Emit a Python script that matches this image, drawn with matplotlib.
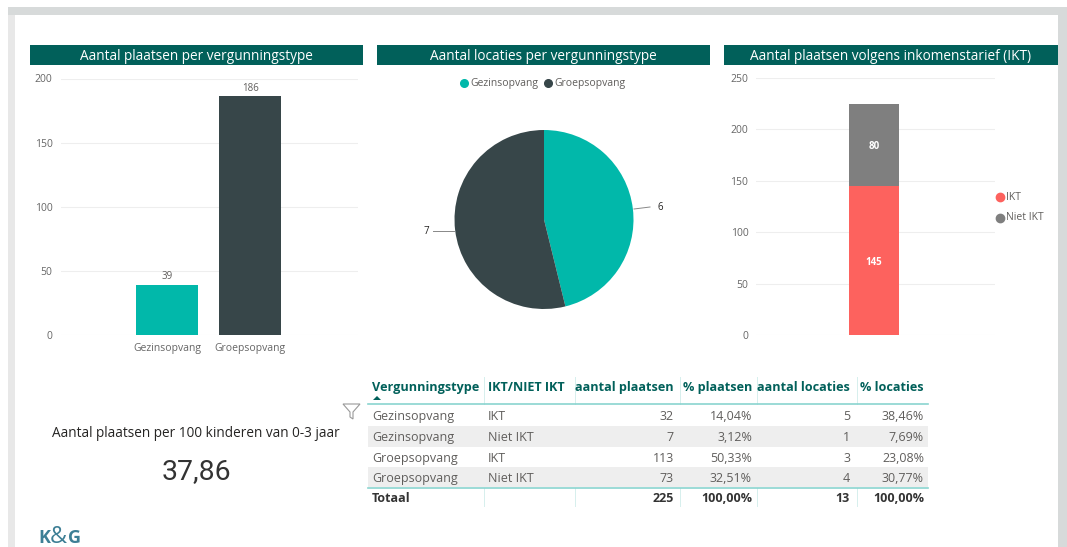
import matplotlib
matplotlib.use("Agg")
import matplotlib.pyplot as plt
from matplotlib.patches import Rectangle, Polygon

plt.rcParams['font.family'] = ['Open Sans', 'DejaVu Sans']

W, H = 1067, 547
TEAL = '#01605a'
GREEN = '#01b8aa'
DARK = '#374649'
RED = '#fd625e'
GRAY = '#7f7f7f'
LINE = '#8ad4cf'

# ---------------- DATA ----------------
titles = ['Aantal plaatsen per vergunningstype',
          'Aantal locaties per vergunningstype',
          'Aantal plaatsen volgens inkomenstarief (IKT)']
types = ['Gezinsopvang', 'Groepsopvang']
places = [39, 186]
locations = [6, 7]
ikt_labels = ['IKT', 'Niet IKT']
ikt_values = [145, 80]
kpi_label = 'Aantal plaatsen per 100 kinderen van 0-3 jaar'
kpi_value = '37,86'

headers = ['Vergunningstype', 'IKT/NIET IKT', 'aantal plaatsen', '% plaatsen', 'aantal locaties', '% locaties']
col_type = ['Gezinsopvang', 'Gezinsopvang', 'Groepsopvang', 'Groepsopvang']
col_ikt = ['IKT', 'Niet IKT', 'IKT', 'Niet IKT']
col_places = ['32', '7', '113', '73']
col_pct_places = ['14,04%', '3,12%', '50,33%', '32,51%']
col_locs = ['5', '1', '3', '4']
col_pct_locs = ['38,46%', '7,69%', '23,08%', '30,77%']
totals = ['Totaal', '', '225', '100,00%', '13', '100,00%']


def axes_px(x0, y0, x1, y1):
    # pixel box, y measured from the top
    return fig.add_axes([x0 / W, 1 - y1 / H, (x1 - x0) / W, (y1 - y0) / H])


fig = plt.figure(figsize=(W / 100, H / 100), dpi=100, facecolor='white')

# overlay in pixel coordinates
bg = fig.add_axes([0, 0, 1, 1])
bg.set_xlim(0, W)
bg.set_ylim(H, 0)
bg.axis('off')
bg.add_patch(Rectangle((8, 7), 1050, 8, color='#d7dada', lw=0))
bg.add_patch(Rectangle((8, 15), 7, 532, color='#e8e8e8', lw=0))
bg.add_patch(Rectangle((1058, 7), 9, 540, color='#d7dada', lw=0))

for (x0, x1), t in zip([(30, 363), (377, 710), (724, 1058)], titles):
    bg.add_patch(Rectangle((x0, 45), x1 - x0, 20, color=TEAL, lw=0))
    bg.text((x0 + x1) / 2, 60, t, color='white', fontsize=9.8, ha='center', va='baseline')

# ---------------- BAR CHART ----------------
ax1 = axes_px(61, 78.5, 358, 335)
ax1.bar(range(2), places, width=0.75, color=[GREEN, DARK])
ax1.set_xlim(-1.277, 2.3)
ax1.set_ylim(0, 200)
ax1.set_yticks([0, 50, 100, 150, 200])
ax1.set_xticks(range(2), types)
for i, v in enumerate(places):
    ax1.annotate(str(v), (i, v), xytext=(0, 4), textcoords='offset points',
                 ha='center', fontsize=7, color='#605e5c')

# ---------------- PIE ----------------
ax2 = axes_px(444, 119.5, 644, 319.5)
ax2.pie(locations, colors=[GREEN, DARK], startangle=90, counterclock=False, radius=0.895)
ax2.set_xlim(-1, 1)
ax2.set_ylim(-1, 1)
bg.plot([634, 650], [209, 207], color='#888888', lw=0.7)
bg.text(658, 207, str(locations[0]), fontsize=7, color='#252423', ha='left', va='center')
bg.plot([433, 454], [231, 231], color='#888888', lw=0.7)
bg.text(426, 231, str(locations[1]), fontsize=7, color='#252423', ha='center', va='center')
bg.plot([464], [82.5], 'o', color=GREEN, ms=5.5)
bg.text(470, 86, types[0], fontsize=7.5, color='#605e5c', va='baseline')
bg.plot([548], [82.5], 'o', color=DARK, ms=5.5)
bg.text(554, 86, types[1], fontsize=7.5, color='#605e5c', va='baseline')

# ---------------- STACKED BAR ----------------
ax3 = axes_px(756, 78, 995, 335)
ax3.bar([0], ikt_values[0], width=0.5, color=RED)
ax3.bar([0], ikt_values[1], width=0.5, bottom=ikt_values[0], color=GRAY)
ax3.set_xlim(-1.18, 1.21)
ax3.set_ylim(0, 250)
ax3.set_yticks([0, 50, 100, 150, 200, 250])
ax3.set_xticks([])
ax3.annotate(str(ikt_values[0]), (0, ikt_values[0] / 2), xytext=(0, -1.5), textcoords='offset points',
             color='white', fontsize=7, fontweight='bold', ha='center', va='center')
ax3.annotate(str(ikt_values[1]), (0, ikt_values[0] + ikt_values[1] / 2), xytext=(0, -1.5),
             textcoords='offset points', color='white', fontsize=7, fontweight='bold',
             ha='center', va='center')
for y, c, t in zip([196.5, 217.5], [RED, GRAY], ikt_labels):
    bg.plot([1000], [y], 'o', color=c, ms=6)
    bg.text(1006, y + 3, t, fontsize=7.5, color='#605e5c', va='baseline')

for ax in (ax1, ax3):
    for s in ax.spines.values():
        s.set_visible(False)
    ax.set_axisbelow(True)
    ax.grid(axis='y', color='#eeeeee', lw=0.8)
    ax.tick_params(length=0, labelsize=7.5, labelcolor='#666666')
    ax.patch.set_alpha(0)
ax1.tick_params(axis='x', pad=6)
ax1.tick_params(axis='y', pad=6)
ax3.tick_params(axis='y', pad=5.5)

# ---------------- KPI ----------------
bg.text(196, 437, kpi_label, fontsize=9.85, color='#252423', ha='center', va='baseline')
bg.text(196, 479, kpi_value, fontsize=20.4, color='#333333', ha='center', va='baseline',
        family=['Roboto', 'DejaVu Sans'])
bg.add_patch(Polygon([(343, 404), (360, 404), (353, 412), (353, 419), (350, 417), (350, 412)],
                     closed=True, fill=False, ec='#999999', lw=0.8))
bg.text(38, 543, 'K', fontsize=13, color='#3d7f95', fontweight='bold', ha='left', va='baseline')
bg.text(58, 543, '&', fontsize=17, color='#3d7f95', ha='center', va='baseline')
bg.text(68, 543, 'G', fontsize=13, color='#3d7f95', fontweight='bold', ha='left', va='baseline')

# ---------------- TABLE ----------------
rows = list(zip(col_type, col_ikt, col_places, col_pct_places, col_locs, col_pct_locs))
col_x = [372, 488, 674, 752, 850, 924]
col_ha = ['left', 'left', 'right', 'right', 'right', 'right']
row_y = [420, 441, 462, 482]
bg.add_patch(Rectangle((368, 426), 560, 21, color='#eeeeee', lw=0))
bg.add_patch(Rectangle((368, 467), 560, 20, color='#eeeeee', lw=0))
for x in [484, 575, 680, 757, 857]:
    bg.plot([x, x], [377, 404], color='#d6efed', lw=0.7)
    bg.plot([x, x], [488, 506], color='#d6efed', lw=0.7)
for x, ha, h in zip(col_x, col_ha, headers):
    bg.text(x, 391, h, fontsize=9.1, fontweight='bold', color=TEAL, ha=ha, va='baseline')
bg.add_patch(Polygon([(373, 400), (381, 400), (377, 396)], color=TEAL, lw=0))
bg.plot([368, 928], [404, 404], color=LINE, lw=1.2)
bg.plot([368, 928], [488, 488], color=LINE, lw=1.2)
for y, row in zip(row_y, rows):
    for x, ha, v in zip(col_x, col_ha, row):
        bg.text(x, y, v, fontsize=9, color='#605e5c', ha=ha, va='baseline')
for x, ha, v in zip(col_x, col_ha, totals):
    bg.text(x, 502, v, fontsize=9, fontweight='bold', color='#333333', ha=ha, va='baseline')

fig.savefig('out.png', dpi=100)
